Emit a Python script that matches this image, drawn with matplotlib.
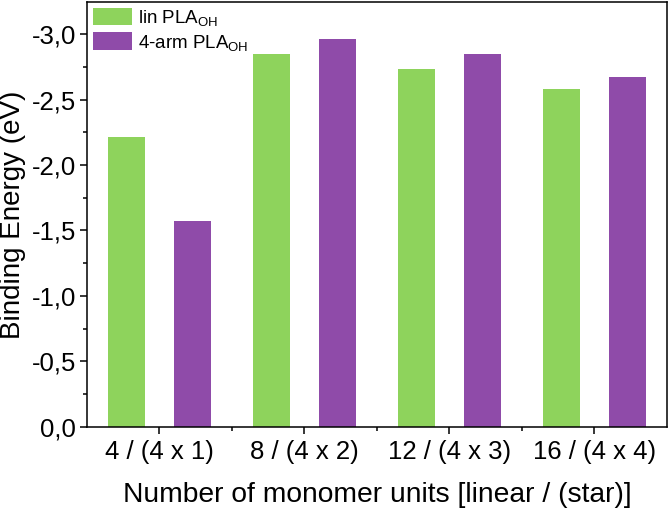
import matplotlib
matplotlib.use("Agg")
import matplotlib.pyplot as plt
import numpy as np
from matplotlib.ticker import MultipleLocator, FixedLocator

plt.rcParams['font.family'] = ['Liberation Sans', 'DejaVu Sans']
plt.rcParams['mathtext.fontset'] = 'custom'
plt.rcParams['mathtext.rm'] = 'Liberation Sans'
plt.rcParams['mathtext.it'] = 'Liberation Sans:italic'

# data
categories = ['4 / (4 x 1)', '8 / (4 x 2)', '12 / (4 x 3)', '16 / (4 x 4)']
lin_pla = [-2.21, -2.85, -2.73, -2.58]
arm_pla = [-1.57, -2.96, -2.85, -2.67]
y_ticks = [0.0, -0.5, -1.0, -1.5, -2.0, -2.5, -3.0]
y_labels = ['0,0', '-0,5', '-1,0', '-1,5', '-2,0', '-2,5', '-3,0']

green = '#8ED35C'
purple = '#8F4BA9'

fig = plt.figure(figsize=(6.69, 5.08), dpi=100)
ax = fig.add_axes([0.130, 0.160, 0.867, 0.836])

x = np.arange(1, len(categories) + 1)
w = 0.255
off = 0.228
ax.bar(x - off, lin_pla, width=w, color=green, label=r'lin PLA$_{\mathrm{OH}}$')
ax.bar(x + off, arm_pla, width=w, color=purple, label=r'4-arm PLA$_{\mathrm{OH}}$')

ax.set_xlim(0.5, 4.5)
ax.set_ylim(0, -3.245)

ax.set_xticks(x)
ax.set_xticklabels(categories, fontsize=18.5)
ax.xaxis.set_minor_locator(FixedLocator([1.5, 2.5, 3.5]))
ax.set_yticks(y_ticks)
ax.set_yticklabels(y_labels, fontsize=18.5)
ax.yaxis.set_minor_locator(MultipleLocator(0.25))

ax.tick_params(which='major', direction='out', length=5, width=1.1, pad=3)
ax.tick_params(axis='x', which='major', pad=4.5)
ax.tick_params(which='minor', direction='out', length=3, width=1.1)
for s in ax.spines.values():
    s.set_linewidth(1.1)

ax.set_xlabel('Number of monomer units [linear / (star)]', fontsize=20.3, labelpad=13)
ax.set_ylabel('Binding Energy (eV)', fontsize=20, labelpad=4)

ax.legend(loc='upper left', frameon=False, fontsize=13.5, handlelength=2.1,
          handleheight=1.05, labelspacing=0.25, handletextpad=0.3,
          borderaxespad=0.1, borderpad=0.2)

fig.savefig('out.png', dpi=100)
